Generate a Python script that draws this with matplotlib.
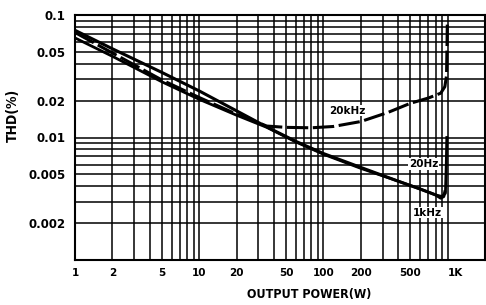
import matplotlib
matplotlib.use('Agg')
import matplotlib.pyplot as plt
import matplotlib.transforms as mtransforms
from matplotlib import font_manager
from matplotlib.ticker import LogLocator

# curve data (power in W, THD in %)
power_1k = [1, 2, 5, 10, 20, 35, 60, 100, 200, 400, 600, 800, 880, 930, 950]
thd_1k = [0.075, 0.053, 0.034, 0.024, 0.0165, 0.0122, 0.0093, 0.0074,
          0.0057, 0.0044, 0.0038, 0.0034, 0.0032, 0.0033, 0.0036]

power_20 = [1, 2, 5, 10, 20, 35, 60, 100, 200, 400, 600, 800, 900, 960, 975, 985]
thd_20 = [0.065, 0.046, 0.0285, 0.0205, 0.0152, 0.0121, 0.0092, 0.0073,
          0.0056, 0.0044, 0.0038, 0.0034, 0.0033, 0.0035, 0.006, 0.010]

power_20k = [1, 2, 5, 10, 20, 35, 50, 80, 120, 200, 330, 500, 700, 880, 950, 980, 990, 995]
thd_20k = [0.072, 0.049, 0.0295, 0.0212, 0.0155, 0.0124, 0.0121, 0.0120,
           0.0123, 0.0135, 0.016, 0.019, 0.021, 0.023, 0.026, 0.032, 0.06, 0.09]

x_ticks = [1, 2, 5, 10, 20, 50, 100, 200, 500, 1000]
x_labels = ['1', '2', '5', '10', '20', '50', '100', '200', '500', '1K']
y_ticks = [0.002, 0.005, 0.01, 0.02, 0.05, 0.1]
y_labels = ['0.002', '0.005', '0.01', '0.02', '0.05', '0.1']

# a condensed face for the axis titles if one is installed
condensed = [f for f in font_manager.fontManager.ttflist
             if f.name == 'DejaVu Sans' and f.stretch == 'condensed']
if condensed:
    title_font = dict(family='DejaVu Sans', fontstretch='condensed', fontsize=9, fontweight='bold')
else:
    title_font = dict(family='Liberation Sans', fontsize=9, fontweight='bold')

fig = plt.figure(figsize=(4.86, 3.05), dpi=100)
ax = fig.add_axes([75 / 486, 45 / 305, 410 / 486, 245 / 305])
ax.set_xscale('log')
ax.set_yscale('log')
ax.set_xlim(1, 2000)
ax.set_ylim(0.001, 0.1)

# labelled ticks as major, the dense printed grid as minor
ax.set_xticks(x_ticks)
ax.set_xticklabels(x_labels, fontsize=7.5, fontweight='bold')
ax.set_yticks(y_ticks)
ax.set_yticklabels(y_labels, fontsize=8.5, fontweight='bold')
ax.xaxis.set_minor_locator(LogLocator(base=10, subs=range(1, 10)))
ax.yaxis.set_minor_locator(LogLocator(base=10, subs=range(1, 10)))
ax.xaxis.set_minor_formatter(plt.NullFormatter())
ax.yaxis.set_minor_formatter(plt.NullFormatter())
ax.grid(True, which='both', color='black', linewidth=1.1)
ax.set_axisbelow(True)
ax.tick_params(which='both', length=0)
ax.tick_params(axis='x', pad=6)
ax.tick_params(axis='y', pad=7)
for lab in ax.get_xticklabels():
    if lab.get_text() == '1K':
        lab.set_transform(lab.get_transform() + mtransforms.ScaledTranslation(8 / 100, 0, fig.dpi_scale_trans))

ax.plot(power_20k, thd_20k, color='black', linewidth=2.2, dashes=(7, 1.5), zorder=3)
ax.plot(power_20, thd_20, color='black', linewidth=2.0, zorder=3)
ax.plot(power_1k, thd_1k, color='black', linewidth=2.2, zorder=3)

for sp in ax.spines.values():
    sp.set_linewidth(1.5)

box = dict(facecolor='white', edgecolor='none', pad=0.5)
ax.text(156, 0.0166, '20kHz', fontsize=7.5, fontweight='bold', ha='center', va='center', bbox=box, zorder=4)
ax.text(640, 0.0061, '20Hz', fontsize=7.5, fontweight='bold', ha='center', va='center', bbox=box, zorder=4)
ax.text(690, 0.00243, '1kHz', fontsize=7.5, fontweight='bold', ha='center', va='center', bbox=box, zorder=4)

ax.set_xlabel('OUTPUT POWER(W)', **title_font)
ax.xaxis.set_label_coords(0.571, -0.114)
ax.set_ylabel('THD(%)', **dict(title_font, fontsize=10))
ax.yaxis.set_label_coords(-0.134, 0.59)

fig.savefig('out.png', dpi=100)
